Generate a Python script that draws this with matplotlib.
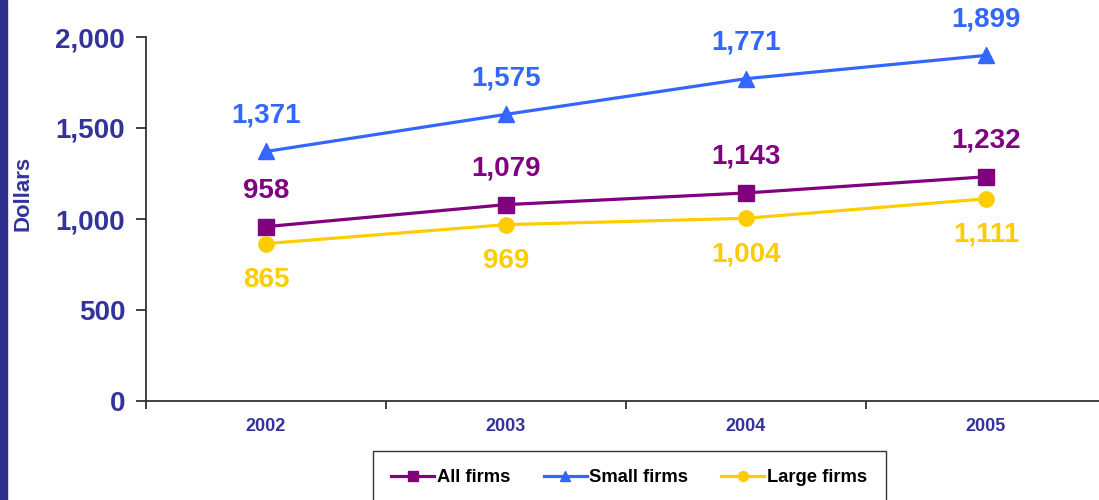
import numpy as np
import matplotlib.pyplot as plt
from matplotlib.patches import Rectangle

plt.rcParams['font.family'] = ['Liberation Sans', 'DejaVu Sans']
plt.rcParams['font.weight'] = 'bold'

years = ['2002', '2003', '2004', '2005']
all_firms = [958, 1079, 1143, 1232]
small_firms = [1371, 1575, 1771, 1899]
large_firms = [865, 969, 1004, 1111]

navy = '#333399'
purple = '#800080'
blue = '#3366FF'
yellow = '#FFCC00'

W, H = 1099, 500
fig = plt.figure(figsize=(W / 100, H / 100), dpi=100)
ax = fig.add_axes([146 / W, 1 - 401 / H, (1106 - 146) / W, (401 - 37) / H])

x = np.arange(len(years))

series = [
    ('All firms', all_firms, purple, 's', 11, 'above'),
    ('Small firms', small_firms, blue, '^', 12, 'above'),
    ('Large firms', large_firms, yellow, 'o', 11, 'below'),
]
for name, vals, col, mk, ms, pos in series:
    ax.plot(x, vals, color=col, lw=2.3, marker=mk, ms=ms, label=name, clip_on=False)
    for xi, v in zip(x, vals):
        dy = 26 if pos == 'above' else -26
        ax.annotate(f'{v:,}', (xi, v), xytext=(0, dy), textcoords='offset points',
                    ha='center', va='center', color=col, fontsize=20, fontweight='bold')

ax.set_xlim(-0.5, 3.5)
ax.set_ylim(0, 2000)
ax.set_yticks([0, 500, 1000, 1500, 2000])
ax.set_yticklabels(['0', '500', '1,000', '1,500', '2,000'])
ax.set_xticks(x)
ax.set_xticklabels(years)
ax.set_xticks([-0.5, 0.5, 1.5, 2.5], minor=True)

ax.tick_params(axis='y', length=7, width=1.3, color='#333333', labelsize=20,
               labelcolor=navy, pad=8)
ax.tick_params(axis='x', which='major', length=0, labelsize=13, labelcolor=navy, pad=12)
ax.tick_params(axis='x', which='minor', length=6, width=1.3, color='#333333')

for s in ['top', 'right']:
    ax.spines[s].set_visible(False)
for s in ['left', 'bottom']:
    ax.spines[s].set_color('#333333')
    ax.spines[s].set_linewidth(1.3)

ax.set_ylabel('Dollars', color=navy, fontsize=16, fontweight='bold')
ax.yaxis.set_label_coords(-0.117, 0.571)

leg = fig.legend(loc='upper left', bbox_to_anchor=(373 / W, 1 - 451 / H), ncol=3,
                 frameon=True, fancybox=False, fontsize=13.2, handlelength=2.35,
                 handletextpad=0.15, columnspacing=1.8, borderpad=1.0, borderaxespad=0,
                 markerscale=0.65)
leg.get_frame().set_edgecolor('black')
leg.get_frame().set_linewidth(1.0)
for t in leg.get_texts():
    t.set_fontweight('bold')

fig.patches.append(Rectangle((0, 0), 7 / W, 1, transform=fig.transFigure,
                             color='#2E2E8C', zorder=10))

fig.savefig('out.png', dpi=100)
